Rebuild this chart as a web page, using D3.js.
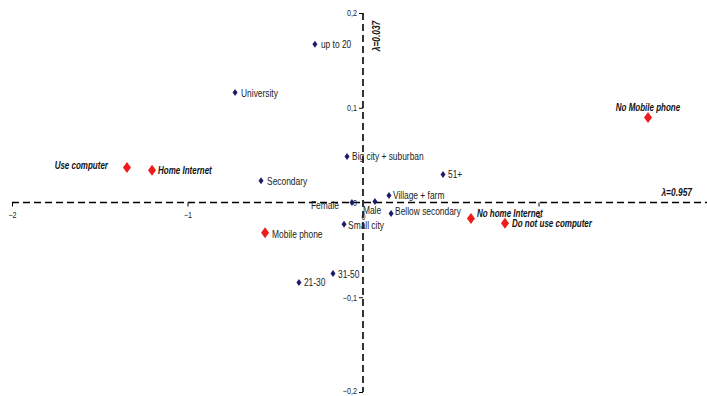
<!DOCTYPE html>
<html><head><meta charset="utf-8">
<script src="https://cdn.jsdelivr.net/npm/d3@7"></script>
<style>body{margin:0;background:#fff}svg{display:block}</style>
</head><body>
<svg id="c" width="707" height="396"></svg>
<script>
// Data
const blueNames = ["up to 20","University","Big city + suburban","Secondary","51+","Village + farm","Male","Female","Bellow secondary","Small city","21-30","31-50"];
const blueX = [-0.274,-0.729,-0.091,-0.581,0.456,0.148,0.068,-0.063,0.160,-0.108,-0.365,-0.171];
const blueY = [0.167,0.116,0.0486,0.023,0.0296,0.0074,0.001,0.0,-0.0116,-0.023,-0.0844,-0.075];
const redNames = ["Use computer","Home Internet","Mobile phone","No home Internet","Do not use computer","No Mobile phone"];
const redX = [-1.345,-1.202,-0.558,0.615,0.809,1.624];
const redY = [0.037,0.034,-0.032,-0.017,-0.022,0.0897];
const xTicks = [-2,-1,0,1];
const yTicks = [-0.2,-0.1,0,0.1,0.2];
const xAxisLabel = "λ=0.957";
const yAxisLabel = "λ=0.037";

// Label placement (styling)
const labelPos = {
  "up to 20":{dx:6,dy:4,anchor:"start"},
  "University":{dx:6,dy:4,anchor:"start"},
  "Big city + suburban":{dx:5,dy:4,anchor:"start"},
  "Secondary":{dx:6,dy:4,anchor:"start"},
  "51+":{dx:5,dy:4,anchor:"start"},
  "Village + farm":{dx:4,dy:4,anchor:"start"},
  "Male":{dx:-12,dy:12,anchor:"start"},
  "Female":{dx:-13,dy:6,anchor:"end"},
  "Bellow secondary":{dx:4,dy:2,anchor:"start"},
  "Small city":{dx:4,dy:5,anchor:"start"},
  "21-30":{dx:5,dy:4,anchor:"start"},
  "31-50":{dx:5,dy:4,anchor:"start"},
  "Use computer":{dx:-19,dy:2,anchor:"end"},
  "Home Internet":{dx:6,dy:4,anchor:"start"},
  "Mobile phone":{dx:7,dy:5,anchor:"start"},
  "No home Internet":{dx:6,dy:-2,anchor:"start"},
  "Do not use computer":{dx:7,dy:4,anchor:"start"},
  "No Mobile phone":{dx:0,dy:-7,anchor:"middle"}
};
const boldLabels = ["Use computer","Home Internet","No home Internet","Do not use computer","No Mobile phone"];

const svg = d3.select("#c");
const x = d3.scaleLinear().domain([-2,2]).range([12,714]);
const y = d3.scaleLinear().domain([-0.2,0.2]).range([392,13]);
const SX = 0.8;
const FONT = "Liberation Sans, Arial, sans-serif";
const fmtY = d => d===0 ? "0" : d3.format(".1f")(d).replace(".",",");
const fmtX = d => d3.format("d")(d);

// horizontal axis (dashed)
svg.append("line").attr("x1",x(-2)).attr("x2",707).attr("y1",y(0)).attr("y2",y(0))
  .attr("stroke","#000").attr("stroke-width",1.6).attr("stroke-dasharray","7,4");
// vertical axis (dashed)
svg.append("line").attr("x1",x(0)).attr("x2",x(0)).attr("y1",y(0.2)).attr("y2",y(-0.2))
  .attr("stroke","#000").attr("stroke-width",1.6).attr("stroke-dasharray","7,4");

// x ticks
const xa = svg.append("g").attr("transform",`translate(0,${y(0)})`)
  .call(d3.axisBottom(x).tickValues(xTicks).tickSize(4).tickFormat(fmtX));
xa.select(".domain").remove();
xa.selectAll("line").attr("stroke","#000").attr("stroke-width",1);
xa.selectAll("text").attr("font-family",FONT).attr("font-size",9).attr("fill","#222").attr("y",9);
xa.selectAll(".tick").filter(d=>d===0).select("text").attr("y",11);
xa.selectAll(".tick").filter(d=>d===0).select("line").remove();

// y ticks
const ya = svg.append("g").attr("transform",`translate(${x(0)},0)`)
  .call(d3.axisLeft(y).tickValues(yTicks).tickSize(4).tickFormat(fmtY));
ya.select(".domain").remove();
ya.selectAll("line").attr("stroke","#000").attr("stroke-width",1);
ya.selectAll("text").attr("font-family",FONT).attr("font-size",9).attr("fill","#222").attr("x",-6);
ya.selectAll(".tick").filter(d=>d===0).select("line").remove();
ya.selectAll(".tick").filter(d=>d===-0.2).select("text").attr("dy","0.15em");

// compress text horizontally
function squeeze(sel){
  sel.each(function(){
    const t=d3.select(this);
    const tx=+t.attr("x")||0, ty=+t.attr("y")||0;
    t.attr("transform",`translate(${tx},${ty}) scale(${SX},1)`).attr("x",0).attr("y",0);
  });
}
squeeze(xa.selectAll("text"));
squeeze(ya.selectAll("text"));

const diamond = (w,h)=>`M0,${-h/2}L${w/2},0L0,${h/2}L${-w/2},0Z`;

// blue points
const bl = svg.append("g");
blueNames.forEach((n,i)=>{
  const px=x(blueX[i]), py=y(blueY[i]);
  bl.append("path").attr("d",diamond(5,7)).attr("transform",`translate(${px},${py})`).attr("fill","#1c1c6b");
  const lp=labelPos[n];
  bl.append("text").text(n).attr("text-anchor",lp.anchor)
    .attr("transform",`translate(${px+lp.dx},${py+lp.dy}) scale(${SX},1)`)
    .attr("font-family",FONT).attr("font-size",10.5).attr("fill","#222");
});

// red points
const rl = svg.append("g");
redNames.forEach((n,i)=>{
  const px=x(redX[i]), py=y(redY[i]);
  rl.append("path").attr("d",diamond(8,11)).attr("transform",`translate(${px},${py})`).attr("fill","#ee1c1c");
  const lp=labelPos[n];
  const b = boldLabels.includes(n);
  rl.append("text").text(n).attr("text-anchor",lp.anchor)
    .attr("transform",`translate(${px+lp.dx},${py+lp.dy}) scale(${SX},1)`)
    .attr("font-family",FONT).attr("font-size",b?10:10.5)
    .attr("font-weight",b?"bold":"normal").attr("font-style",b?"italic":"normal")
    .attr("fill",b?"#111":"#222");
});

// axis labels
svg.append("text").text(xAxisLabel).attr("text-anchor","end")
  .attr("transform",`translate(692,196) scale(${SX},1)`)
  .attr("font-family",FONT).attr("font-size",10.5)
  .attr("font-weight","bold").attr("font-style","italic").attr("fill","#111");
svg.append("text").text(yAxisLabel).attr("text-anchor","middle")
  .attr("transform",`translate(380,36) rotate(-90) scale(${SX},1)`)
  .attr("font-family",FONT).attr("font-size",10.5)
  .attr("font-weight","bold").attr("font-style","italic").attr("fill","#111");
</script>
</body></html>
